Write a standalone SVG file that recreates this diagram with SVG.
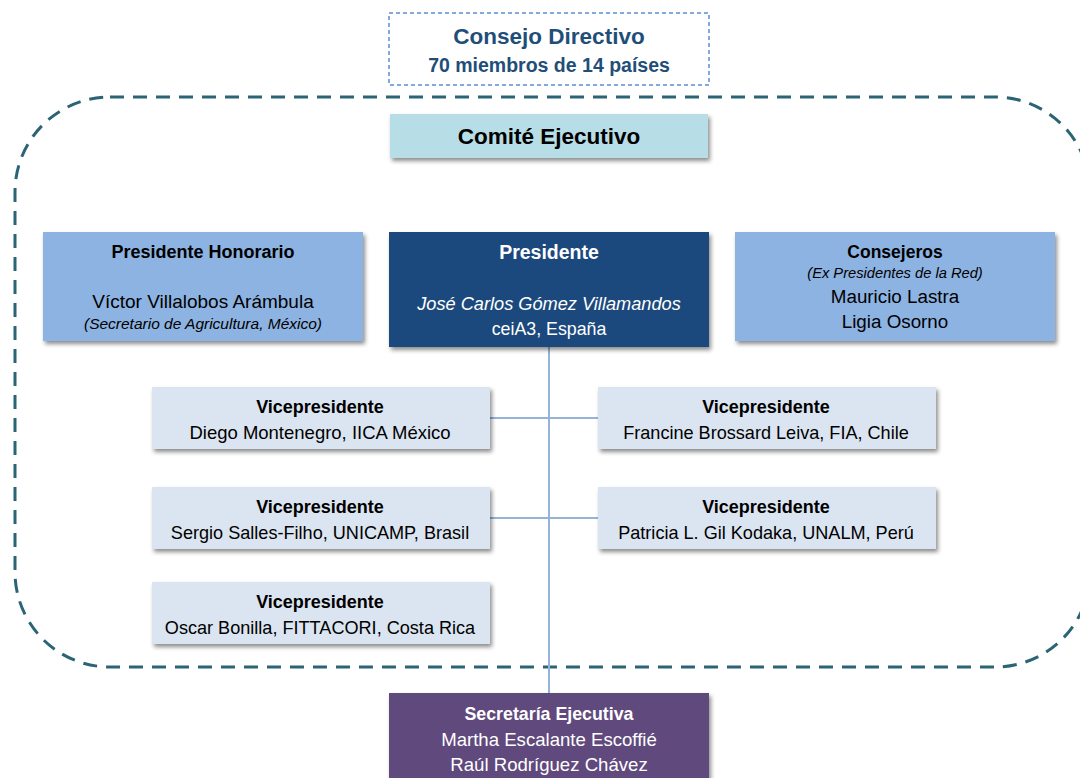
<svg xmlns="http://www.w3.org/2000/svg" width="1080" height="778" viewBox="0 0 1080 778">
<defs>
<filter id="sh" x="-10%" y="-20%" width="125%" height="150%">
<feDropShadow dx="2" dy="3" stdDeviation="2" flood-color="#000" flood-opacity="0.45"/>
</filter>
<style>
text{font-family:"Liberation Sans",Arial,sans-serif;text-anchor:middle}
.b{font-weight:bold}
.i{font-style:italic}
.vp{fill:#dbe5f1}
.lb{fill:#8db3e2}
.conn{stroke:#95b3d7;stroke-width:2;fill:none}
</style>
</defs>
<rect width="1080" height="778" fill="#fff"/>
<rect x="15" y="97" width="1075" height="570" rx="95" ry="95" fill="none" stroke="#2b6474" stroke-width="3" stroke-dasharray="14 9"/>
<g id="connectors">
<line class="conn" x1="549" y1="347" x2="549" y2="693"/>
<line class="conn" x1="490" y1="418" x2="598" y2="418"/>
<line class="conn" x1="490" y1="518" x2="598" y2="518"/>
</g>
<g id="consejo">
<rect x="389" y="13" width="320" height="72" fill="#fff" stroke="#5b8fd6" stroke-width="1.5" stroke-dasharray="4 3"/>
<text x="549" y="44" class="b" font-size="22.5" fill="#1f4e79">Consejo Directivo</text>
<text x="549" y="72" class="b" font-size="19.5" fill="#1f4e79">70 miembros de 14 países</text>
</g>
<g id="comite">
<rect x="390" y="114" width="318" height="44" fill="#b7dde6" filter="url(#sh)"/>
<text x="549" y="144" class="b" font-size="22.5" fill="#000">Comité Ejecutivo</text>
</g>
<g id="honorario">
<rect x="43" y="232" width="320" height="109" class="lb" filter="url(#sh)"/>
<text x="203" y="258" class="b" font-size="18" fill="#000">Presidente Honorario</text>
<text x="203" y="308" font-size="19" fill="#000">Víctor Villalobos Arámbula</text>
<text x="203" y="329" class="i" font-size="15.5" fill="#000">(Secretario de Agricultura, México)</text>
</g>
<g id="presidente">
<rect x="389" y="232" width="320" height="115" fill="#1f497d" filter="url(#sh)"/>
<text x="549" y="259" class="b" font-size="19.5" fill="#fff">Presidente</text>
<text x="549" y="310" class="i" font-size="18.2" fill="#fff">José Carlos Gómez Villamandos</text>
<text x="549" y="335" font-size="17.8" fill="#fff">ceiA3, España</text>
</g>
<g id="consejeros">
<rect x="735" y="232" width="320" height="109" class="lb" filter="url(#sh)"/>
<text x="895" y="258" class="b" font-size="17.5" fill="#000">Consejeros</text>
<text x="895" y="278" class="i" font-size="14.7" fill="#000">(Ex Presidentes de la Red)</text>
<text x="895" y="303" font-size="18.8" fill="#000">Mauricio Lastra</text>
<text x="895" y="328" font-size="18.8" fill="#000">Ligia Osorno</text>
</g>
<g id="vp1">
<rect x="152" y="387" width="338" height="62" class="vp" filter="url(#sh)"/>
<text x="320" y="413" class="b" font-size="18" fill="#000">Vicepresidente</text>
<text x="320" y="439" font-size="18.5" fill="#000">Diego Montenegro, IICA México</text>
</g>
<g id="vp2">
<rect x="598" y="387" width="338" height="62" class="vp" filter="url(#sh)"/>
<text x="766" y="413" class="b" font-size="18" fill="#000">Vicepresidente</text>
<text x="766" y="439" font-size="18.1" fill="#000">Francine Brossard Leiva, FIA, Chile</text>
</g>
<g id="vp3">
<rect x="152" y="487" width="338" height="62" class="vp" filter="url(#sh)"/>
<text x="320" y="513" class="b" font-size="18" fill="#000">Vicepresidente</text>
<text x="320" y="539" font-size="18.1" fill="#000">Sergio Salles-Filho, UNICAMP, Brasil</text>
</g>
<g id="vp4">
<rect x="598" y="487" width="338" height="62" class="vp" filter="url(#sh)"/>
<text x="766" y="513" class="b" font-size="18" fill="#000">Vicepresidente</text>
<text x="766" y="539" font-size="18.1" fill="#000">Patricia L. Gil Kodaka, UNALM, Perú</text>
</g>
<g id="vp5">
<rect x="152" y="582" width="338" height="62" class="vp" filter="url(#sh)"/>
<text x="320" y="608" class="b" font-size="18" fill="#000">Vicepresidente</text>
<text x="320" y="634" font-size="18.1" fill="#000">Oscar Bonilla, FITTACORI, Costa Rica</text>
</g>
<g id="secretaria">
<rect x="389" y="693" width="320" height="95" fill="#604a7b" filter="url(#sh)"/>
<text x="549" y="720" class="b" font-size="17.8" fill="#fff">Secretaría Ejecutiva</text>
<text x="549" y="746" font-size="18.6" fill="#fff">Martha Escalante Escoffié</text>
<text x="549" y="771" font-size="18.6" fill="#fff">Raúl Rodríguez Chávez</text>
</g>
</svg>
